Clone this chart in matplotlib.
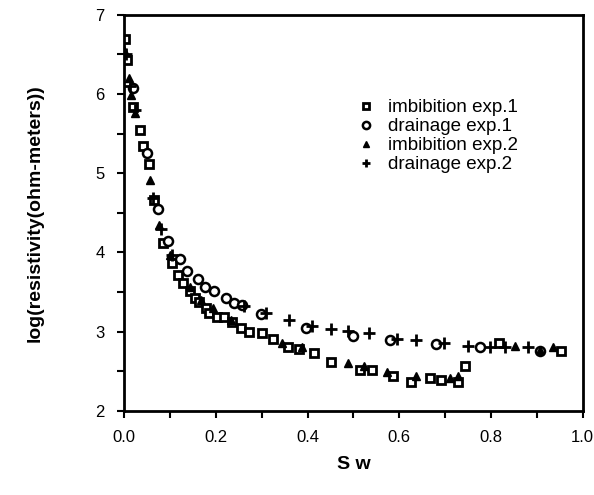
import matplotlib
matplotlib.use("Agg")
import matplotlib.pyplot as plt
from matplotlib.ticker import MultipleLocator, FuncFormatter

plt.rcParams['font.family'] = ['Liberation Sans', 'DejaVu Sans']

# imbibition exp.1 (squares)
imb1_x = [0.002, 0.006, 0.019, 0.034, 0.041, 0.054, 0.065, 0.084, 0.104, 0.117, 0.128,
          0.143, 0.154, 0.164, 0.179, 0.186, 0.203, 0.218, 0.236, 0.255, 0.272, 0.300,
          0.324, 0.357, 0.381, 0.413, 0.452, 0.515, 0.541, 0.587, 0.626, 0.667, 0.691,
          0.728, 0.743, 0.817, 0.952]
imb1_y = [6.70, 6.43, 5.84, 5.55, 5.35, 5.12, 4.66, 4.12, 3.87, 3.71, 3.62,
          3.51, 3.42, 3.37, 3.30, 3.24, 3.18, 3.18, 3.12, 3.05, 2.99, 2.98,
          2.91, 2.81, 2.78, 2.73, 2.62, 2.52, 2.51, 2.44, 2.37, 2.41, 2.39,
          2.36, 2.56, 2.86, 2.76]

# drainage exp.1 (circles)
dr1_x = [0.019, 0.049, 0.073, 0.096, 0.121, 0.136, 0.160, 0.177, 0.197, 0.222, 0.240,
         0.258, 0.298, 0.396, 0.498, 0.580, 0.681, 0.776, 0.906]
dr1_y = [6.08, 5.25, 4.55, 4.14, 3.92, 3.76, 3.66, 3.57, 3.51, 3.42, 3.36,
         3.34, 3.22, 3.05, 2.95, 2.89, 2.85, 2.80, 2.76]

# imbibition exp.2 (triangles)
imb2_x = [0.000, 0.010, 0.016, 0.024, 0.056, 0.076, 0.099, 0.143, 0.168, 0.193, 0.233,
          0.345, 0.388, 0.488, 0.522, 0.574, 0.637, 0.710, 0.728, 0.852, 0.906, 0.935]
imb2_y = [6.56, 6.20, 5.99, 5.76, 4.92, 4.35, 3.97, 3.56, 3.40, 3.30, 3.15,
          2.86, 2.80, 2.60, 2.56, 2.49, 2.44, 2.41, 2.44, 2.82, 2.77, 2.80]

# drainage exp.2 (plus)
dr2_x = [0.003, 0.012, 0.024, 0.062, 0.081, 0.104, 0.262, 0.310, 0.359, 0.409, 0.451,
         0.489, 0.533, 0.594, 0.637, 0.698, 0.750, 0.798, 0.830, 0.880]
dr2_y = [6.50, 6.10, 5.80, 4.69, 4.29, 3.97, 3.32, 3.24, 3.15, 3.07, 3.03,
         3.01, 2.98, 2.91, 2.89, 2.86, 2.82, 2.80, 2.80, 2.80]

labels = ["imbibition exp.1", "drainage exp.1", "imbibition exp.2", "drainage exp.2"]

fig = plt.figure(figsize=(5.94, 4.95), dpi=100)
ax = fig.add_axes([0.209, 0.170, 0.772, 0.800])

ax.plot(imb1_x, imb1_y, linestyle='none', marker='s', markersize=6, markerfacecolor='white',
        markeredgecolor='black', markeredgewidth=2.0, label=labels[0])
ax.plot(dr1_x, dr1_y, linestyle='none', marker='o', markersize=6.5, markerfacecolor='white',
        markeredgecolor='black', markeredgewidth=1.8, label=labels[1])
ax.plot(imb2_x, imb2_y, linestyle='none', marker='^', markersize=6, color='black', label=labels[2])
ax.plot(dr2_x, dr2_y, linestyle='none', marker='+', markersize=8, markeredgewidth=2.0,
        color='black', label=labels[3])

ax.set_xlim(0, 1.0)
ax.set_ylim(2, 7)
ax.xaxis.set_major_locator(MultipleLocator(0.2))
ax.xaxis.set_minor_locator(MultipleLocator(0.1))
ax.yaxis.set_major_locator(MultipleLocator(1))
ax.yaxis.set_minor_locator(MultipleLocator(0.5))
ax.xaxis.set_major_formatter(FuncFormatter(lambda v, p: f"{v:.1f}"))
ax.yaxis.set_major_formatter(FuncFormatter(lambda v, p: f"{v:.0f}"))

for s in ax.spines.values():
    s.set_linewidth(2.0)
ax.tick_params(which='both', direction='out', width=1.5, length=5, labelsize=12, pad=9)
ax.tick_params(which='both', top=False, right=False)

ax.set_xlabel("S w", fontsize=14, fontweight='bold', labelpad=8)
ax.set_ylabel("log(resistivity(ohm-meters))", fontsize=14, fontweight='bold', labelpad=37)

leg = ax.legend(loc='upper left', bbox_to_anchor=(0.47, 0.83), frameon=False, fontsize=13.5,
                handletextpad=0.7, labelspacing=0.1, handlelength=1.0, markerscale=0.8)

fig.savefig("out.png", dpi=100)
